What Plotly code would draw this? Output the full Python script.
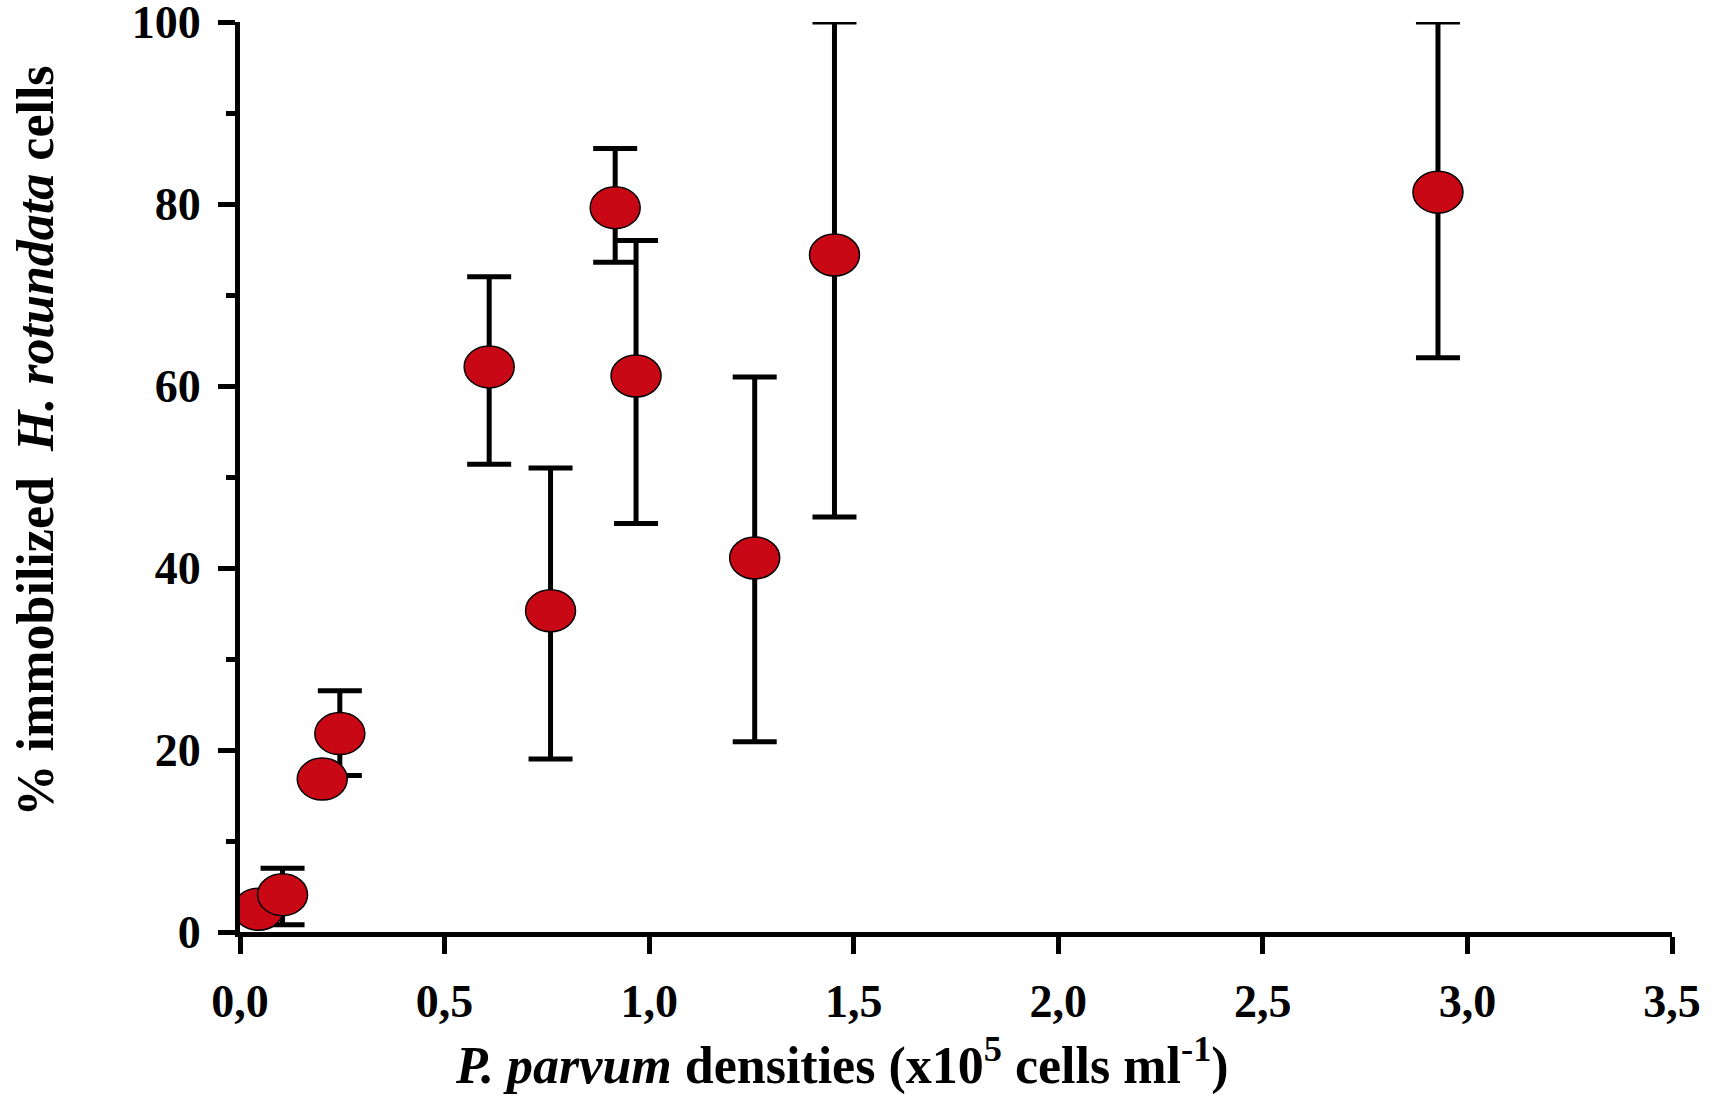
import plotly.graph_objects as go

density = [0.045, 0.104, 0.201, 0.244, 0.609, 0.759, 0.917, 0.968, 1.258, 1.453, 2.928]
immobilized = [2.5, 4.1, 16.8, 21.8, 62.1, 35.3, 79.6, 61.1, 41.1, 74.4, 81.3]
err_upper = [2.5, 7.0, 16.8, 26.5, 72.0, 51.0, 86.1, 76.0, 61.0, 100.0, 100.0]
err_lower = [2.5, 0.8, 16.8, 17.2, 51.4, 19.0, 73.6, 44.9, 20.9, 45.6, 63.1]

x_ticks = [0, 0.5, 1.0, 1.5, 2.0, 2.5, 3.0, 3.5]
y_ticks = [0, 20, 40, 60, 80, 100]

x_title = "<i>P. parvum</i> densities (x10<sup>5</sup> cells ml<sup>-1</sup>)"
y_title = "% immobilized  <i>H. rotundata</i> cells"

plus = [u - v for u, v in zip(err_upper, immobilized)]
minus = [v - l for v, l in zip(immobilized, err_lower)]

RED = "#C80815"
FONT = "Liberation Serif"

fig = go.Figure()
fig.add_trace(go.Scatter(
    x=density, y=immobilized, mode="markers",
    marker=dict(symbol="circle", size=38, color=RED, line=dict(color="black", width=1)),
    error_y=dict(type="data", symmetric=False, array=plus, arrayminus=minus,
                 color="black", thickness=5, width=22),
    cliponaxis=False, showlegend=False,
))

# elliptical markers anchored at the data points
for xv, yv in zip(density, immobilized):
    fig.add_shape(type="circle", xref="x", yref="y",
                  xsizemode="pixel", ysizemode="pixel",
                  xanchor=xv, yanchor=yv, x0=-25, x1=25, y0=-21, y1=21,
                  fillcolor=RED, line=dict(color="black", width=1.5), layer="above")

fig.update_layout(
    width=1720, height=1098,
    margin=dict(l=240, r=48, t=22, b=166),
    plot_bgcolor="white", paper_bgcolor="white",
    separators=",.",
    font=dict(family=FONT, color="black"),
)
fig.update_xaxes(
    range=[0, 3.5], tickvals=x_ticks, tickformat=".1f", automargin=False,
    showline=True, linecolor="black", linewidth=5,
    ticks="outside", ticklen=17, tickwidth=5, tickcolor="black",
    showgrid=False, zeroline=False, ticklabelstandoff=8,
    tickfont=dict(family=FONT, size=46, color="black", weight="bold"),
)
fig.update_yaxes(
    range=[0, 100], tickvals=y_ticks, ticklabeloverflow="allow", automargin=False,
    showline=True, linecolor="black", linewidth=5,
    ticks="outside", ticklen=17, tickwidth=5, tickcolor="black",
    minor=dict(dtick=10, ticks="outside", ticklen=9, tickwidth=5, tickcolor="black", showgrid=False),
    showgrid=False, zeroline=False, ticklabelstandoff=8,
    tickfont=dict(family=FONT, size=46, color="black", weight="bold"),
)

fig.add_annotation(text=x_title, xref="paper", yref="paper",
                   x=0.4204, y=-0.143, xanchor="center", yanchor="middle",
                   showarrow=False,
                   font=dict(family=FONT, size=52, color="black", weight="bold"))
fig.add_annotation(text=y_title, xref="paper", yref="paper",
                   x=-0.1425, y=0.540, xanchor="center", yanchor="middle",
                   textangle=-90, showarrow=False,
                   font=dict(family=FONT, size=52, color="black", weight="bold"))

fig.write_html("out.html")
